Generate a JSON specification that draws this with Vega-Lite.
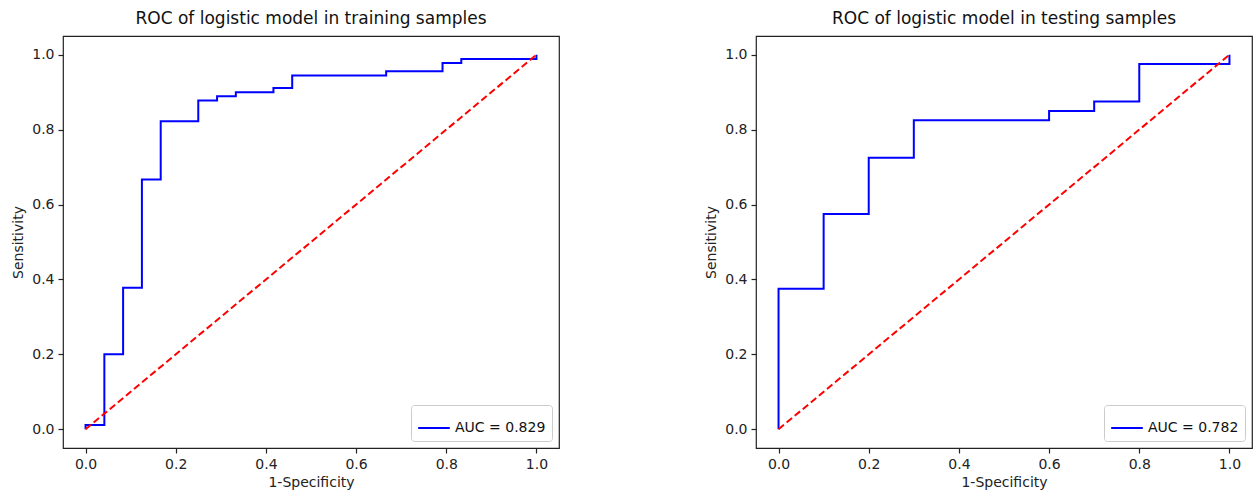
{
  "$schema": "https://vega.github.io/schema/vega-lite/v6.json",
  "padding": {"left": 11, "top": 9, "right": 0, "bottom": 0},
  "background": "white",
  "config": {
    "font": "DejaVu Sans",
    "view": {"stroke": "#222222", "strokeWidth": 1.2},
    "title": {"fontSize": 17, "fontWeight": "normal", "color": "#111111", "anchor": "middle", "offset": 8, "font": "DejaVu Sans"},
    "axis": {
      "domain": false, "grid": false, "tickColor": "#222222", "tickSize": 5, "tickWidth": 1.2,
      "labelFontSize": 14, "labelColor": "#222222", "labelPadding": 4, "labelFont": "DejaVu Sans",
      "titleFontSize": 14, "titleFontWeight": "normal", "titleColor": "#222222", "titleFont": "DejaVu Sans"
    },
    "axisY": {"titlePadding": 6},
    "legend": {
      "orient": "bottom-right", "offset": 7, "title": null, "strokeColor": "#cccccc", "fillColor": "white",
      "cornerRadius": 3, "padding": 6, "symbolType": "stroke", "symbolSize": 1000, "symbolStrokeWidth": 2,
      "labelFontSize": 14, "labelColor": "#111111", "labelFont": "DejaVu Sans", "symbolOffset": 0
    }
  },
  "datasets": {
    "train": [
      {"i": 0, "fpr": 0, "tpr": 0, "auc": "AUC = 0.829"},
      {"i": 1, "fpr": 0, "tpr": 0.0111, "auc": "AUC = 0.829"},
      {"i": 2, "fpr": 0.0417, "tpr": 0.0111, "auc": "AUC = 0.829"},
      {"i": 3, "fpr": 0.0417, "tpr": 0.2, "auc": "AUC = 0.829"},
      {"i": 4, "fpr": 0.0833, "tpr": 0.2, "auc": "AUC = 0.829"},
      {"i": 5, "fpr": 0.0833, "tpr": 0.3778, "auc": "AUC = 0.829"},
      {"i": 6, "fpr": 0.125, "tpr": 0.3778, "auc": "AUC = 0.829"},
      {"i": 7, "fpr": 0.125, "tpr": 0.6667, "auc": "AUC = 0.829"},
      {"i": 8, "fpr": 0.1667, "tpr": 0.6667, "auc": "AUC = 0.829"},
      {"i": 9, "fpr": 0.1667, "tpr": 0.8222, "auc": "AUC = 0.829"},
      {"i": 10, "fpr": 0.25, "tpr": 0.8222, "auc": "AUC = 0.829"},
      {"i": 11, "fpr": 0.25, "tpr": 0.8778, "auc": "AUC = 0.829"},
      {"i": 12, "fpr": 0.2917, "tpr": 0.8778, "auc": "AUC = 0.829"},
      {"i": 13, "fpr": 0.2917, "tpr": 0.8889, "auc": "AUC = 0.829"},
      {"i": 14, "fpr": 0.3333, "tpr": 0.8889, "auc": "AUC = 0.829"},
      {"i": 15, "fpr": 0.3333, "tpr": 0.9, "auc": "AUC = 0.829"},
      {"i": 16, "fpr": 0.4167, "tpr": 0.9, "auc": "AUC = 0.829"},
      {"i": 17, "fpr": 0.4167, "tpr": 0.9111, "auc": "AUC = 0.829"},
      {"i": 18, "fpr": 0.4583, "tpr": 0.9111, "auc": "AUC = 0.829"},
      {"i": 19, "fpr": 0.4583, "tpr": 0.9444, "auc": "AUC = 0.829"},
      {"i": 20, "fpr": 0.6667, "tpr": 0.9444, "auc": "AUC = 0.829"},
      {"i": 21, "fpr": 0.6667, "tpr": 0.9556, "auc": "AUC = 0.829"},
      {"i": 22, "fpr": 0.7917, "tpr": 0.9556, "auc": "AUC = 0.829"},
      {"i": 23, "fpr": 0.7917, "tpr": 0.9778, "auc": "AUC = 0.829"},
      {"i": 24, "fpr": 0.8333, "tpr": 0.9778, "auc": "AUC = 0.829"},
      {"i": 25, "fpr": 0.8333, "tpr": 0.9889, "auc": "AUC = 0.829"},
      {"i": 26, "fpr": 1, "tpr": 0.9889, "auc": "AUC = 0.829"},
      {"i": 27, "fpr": 1, "tpr": 1, "auc": "AUC = 0.829"}
    ],
    "test": [
      {"i": 0, "fpr": 0, "tpr": 0, "auc": "AUC = 0.782"},
      {"i": 1, "fpr": 0, "tpr": 0.375, "auc": "AUC = 0.782"},
      {"i": 2, "fpr": 0.1, "tpr": 0.375, "auc": "AUC = 0.782"},
      {"i": 3, "fpr": 0.1, "tpr": 0.575, "auc": "AUC = 0.782"},
      {"i": 4, "fpr": 0.2, "tpr": 0.575, "auc": "AUC = 0.782"},
      {"i": 5, "fpr": 0.2, "tpr": 0.725, "auc": "AUC = 0.782"},
      {"i": 6, "fpr": 0.3, "tpr": 0.725, "auc": "AUC = 0.782"},
      {"i": 7, "fpr": 0.3, "tpr": 0.825, "auc": "AUC = 0.782"},
      {"i": 8, "fpr": 0.6, "tpr": 0.825, "auc": "AUC = 0.782"},
      {"i": 9, "fpr": 0.6, "tpr": 0.85, "auc": "AUC = 0.782"},
      {"i": 10, "fpr": 0.7, "tpr": 0.85, "auc": "AUC = 0.782"},
      {"i": 11, "fpr": 0.7, "tpr": 0.875, "auc": "AUC = 0.782"},
      {"i": 12, "fpr": 0.8, "tpr": 0.875, "auc": "AUC = 0.782"},
      {"i": 13, "fpr": 0.8, "tpr": 0.975, "auc": "AUC = 0.782"},
      {"i": 14, "fpr": 1, "tpr": 0.975, "auc": "AUC = 0.782"},
      {"i": 15, "fpr": 1, "tpr": 1, "auc": "AUC = 0.782"}
    ],
    "diag": [
      {"fpr": 0, "tpr": 0},
      {"fpr": 1, "tpr": 1}
    ]
  },
  "hconcat": [
    {
      "title": "ROC of logistic model in training samples",
      "width": 496, "height": 412,
      "layer": [
        {
          "data": {"name": "train"},
          "mark": {"type": "line", "strokeWidth": 2, "clip": false},
          "encoding": {
            "x": {"field": "fpr", "type": "quantitative", "scale": {"domain": [-0.05, 1.05], "nice": false, "zero": false}, "axis": {"title": "1-Specificity", "values": [0, 0.2, 0.4, 0.6, 0.8, 1.0], "format": ".1f"}},
            "y": {"field": "tpr", "type": "quantitative", "scale": {"domain": [-0.05, 1.05], "nice": false, "zero": false}, "axis": {"title": "Sensitivity", "values": [0, 0.2, 0.4, 0.6, 0.8, 1.0], "format": ".1f"}},
            "order": {"field": "i", "type": "quantitative"},
            "color": {"field": "auc", "type": "nominal", "scale": {"range": ["#0000ff"]}}
          }
        },
        {
          "data": {"name": "diag"},
          "mark": {"type": "line", "strokeWidth": 2, "color": "#ff0000", "strokeDash": [7, 3.5]},
          "encoding": {
            "x": {"field": "fpr", "type": "quantitative"},
            "y": {"field": "tpr", "type": "quantitative"}
          }
        }
      ]
    },
    {
      "title": "ROC of logistic model in testing samples",
      "width": 496, "height": 412,
      "layer": [
        {
          "data": {"name": "test"},
          "mark": {"type": "line", "strokeWidth": 2, "clip": false},
          "encoding": {
            "x": {"field": "fpr", "type": "quantitative", "scale": {"domain": [-0.05, 1.05], "nice": false, "zero": false}, "axis": {"title": "1-Specificity", "values": [0, 0.2, 0.4, 0.6, 0.8, 1.0], "format": ".1f"}},
            "y": {"field": "tpr", "type": "quantitative", "scale": {"domain": [-0.05, 1.05], "nice": false, "zero": false}, "axis": {"title": "Sensitivity", "values": [0, 0.2, 0.4, 0.6, 0.8, 1.0], "format": ".1f"}},
            "order": {"field": "i", "type": "quantitative"},
            "color": {"field": "auc", "type": "nominal", "scale": {"range": ["#0000ff"]}}
          }
        },
        {
          "data": {"name": "diag"},
          "mark": {"type": "line", "strokeWidth": 2, "color": "#ff0000", "strokeDash": [7, 3.5]},
          "encoding": {
            "x": {"field": "fpr", "type": "quantitative"},
            "y": {"field": "tpr", "type": "quantitative"}
          }
        }
      ]
    }
  ],
  "spacing": 144,
  "resolve": {"scale": {"color": "independent"}, "legend": {"color": "independent"}}
}
